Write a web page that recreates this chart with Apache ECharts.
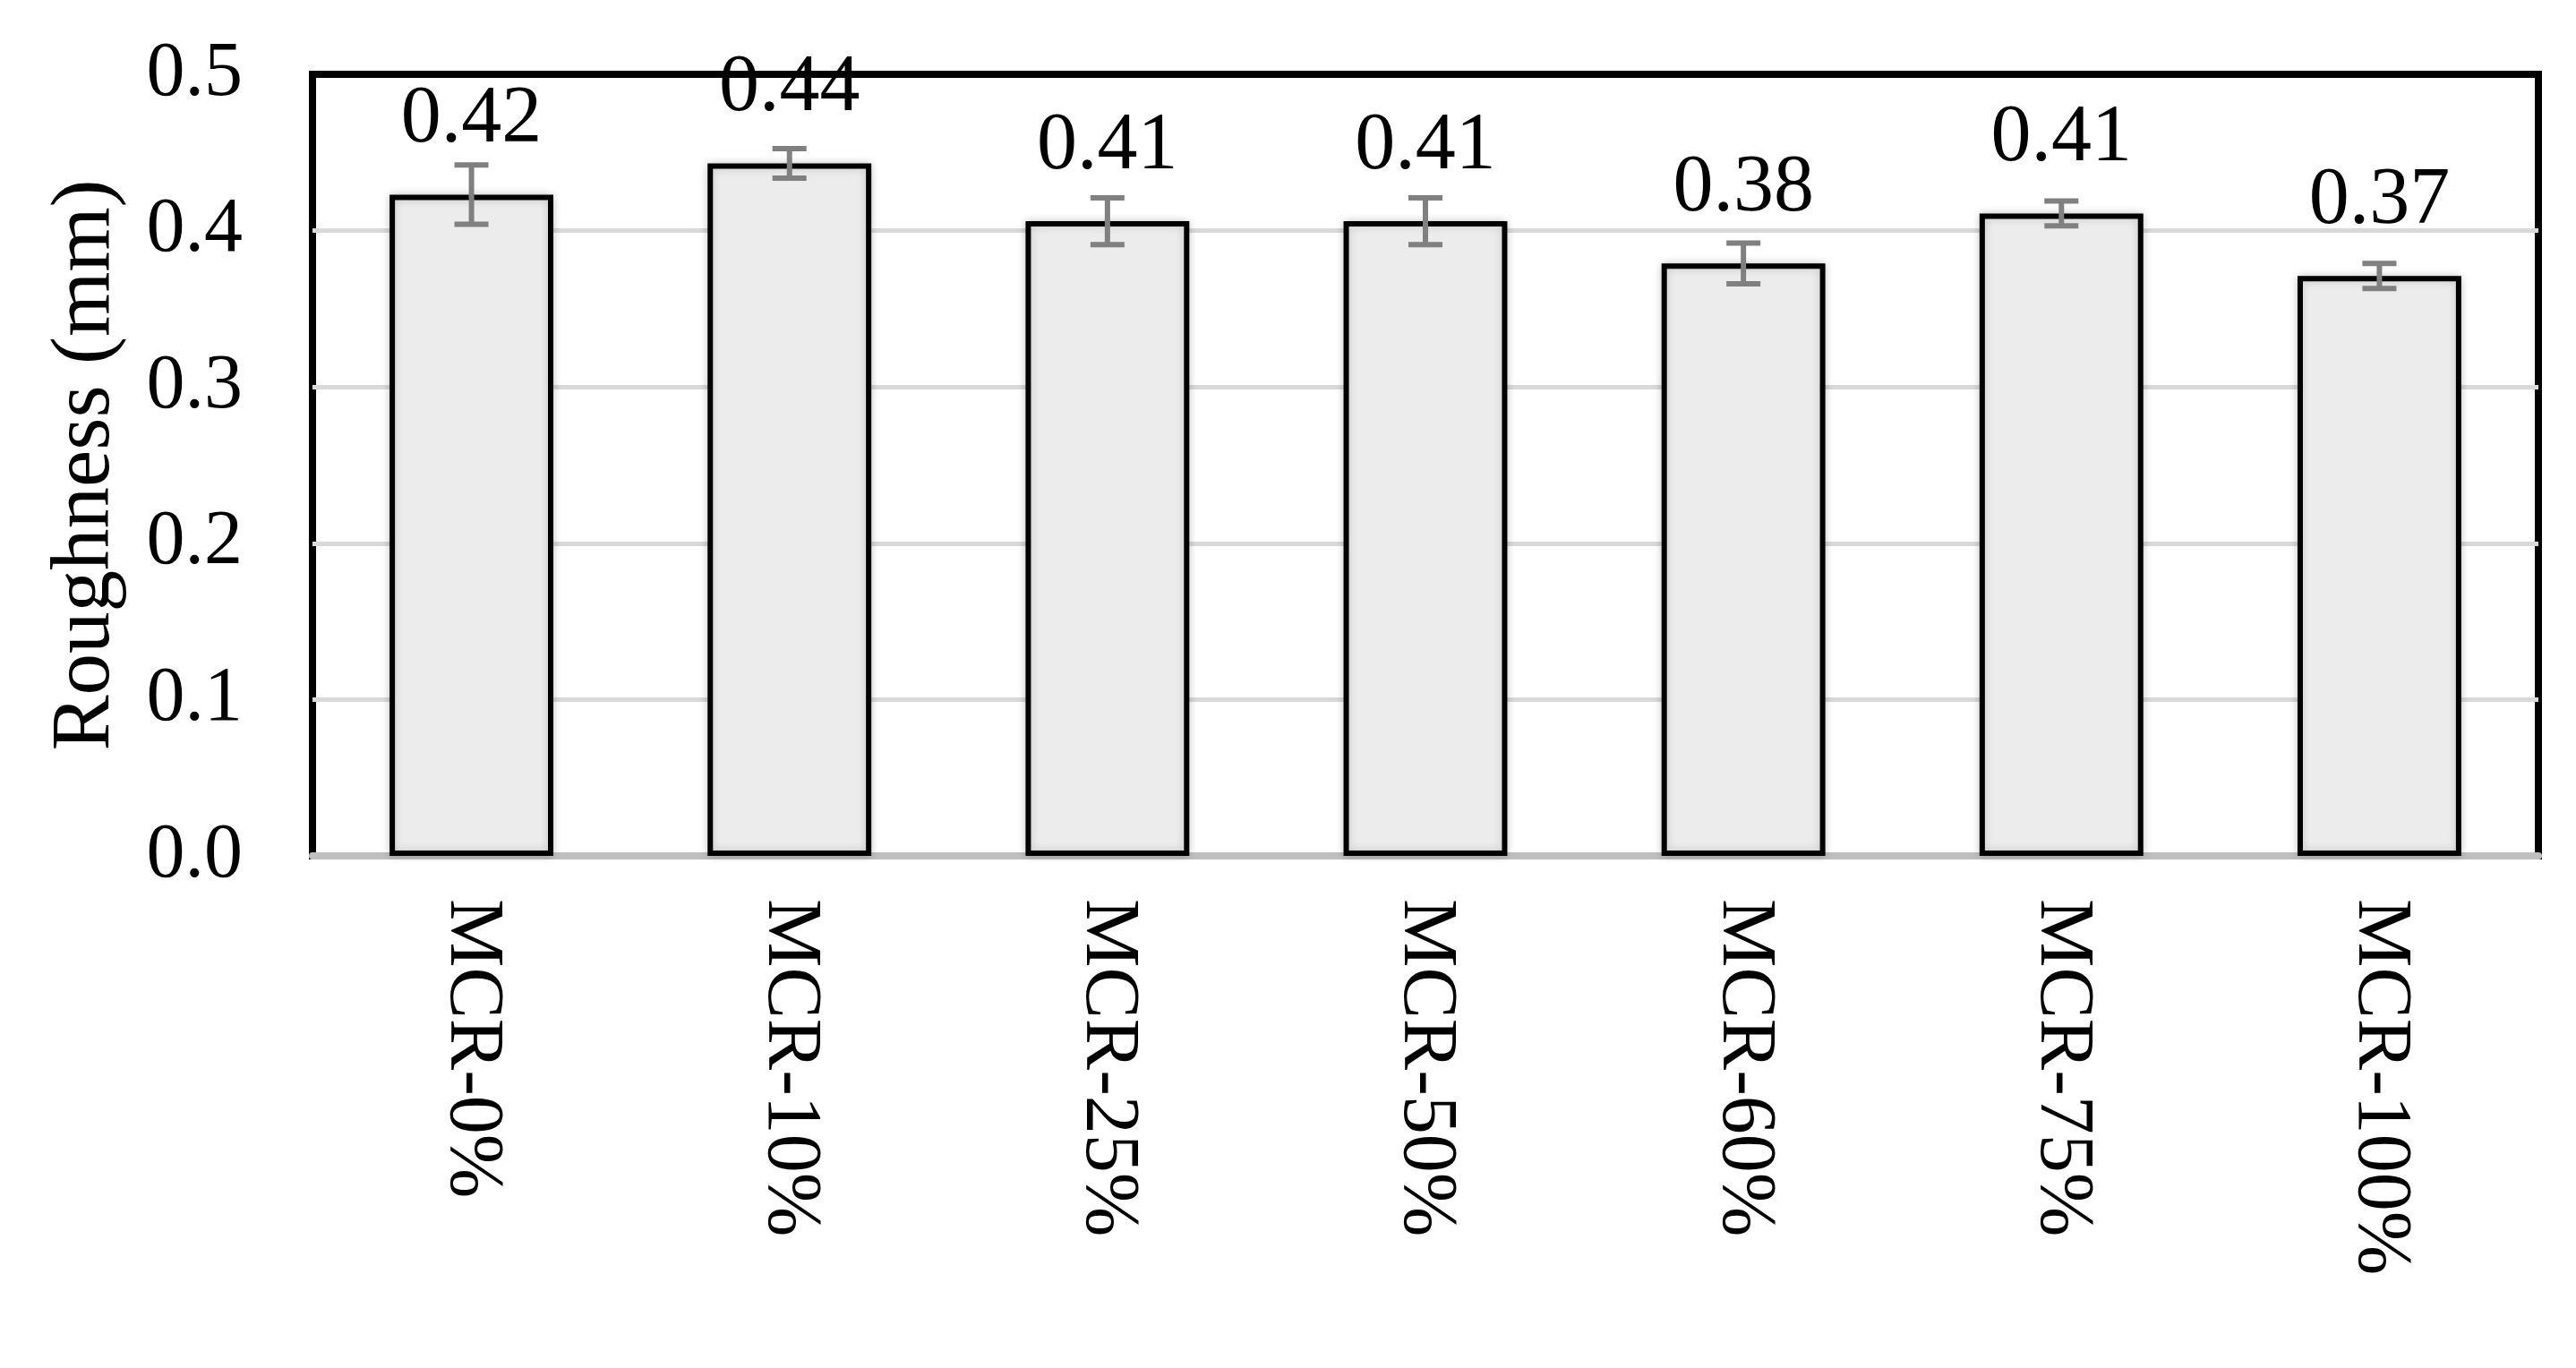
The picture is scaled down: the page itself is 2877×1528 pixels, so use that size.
<!DOCTYPE html>
<html>
<head>
<meta charset="utf-8">
<script src="https://cdn.jsdelivr.net/npm/echarts@6/dist/echarts.min.js"></script>
<style>
html,body{margin:0;padding:0;background:#fff;}
#chart{width:2877px;height:1528px;}
</style>
</head>
<body>
<div id="chart"></div>
<script>
const categories = ['MCR-0%','MCR-10%','MCR-25%','MCR-50%','MCR-60%','MCR-75%','MCR-100%'];
const roughness = [0.423, 0.443, 0.406, 0.406, 0.379, 0.411, 0.371];
const errors = [0.019, 0.0095, 0.015, 0.015, 0.013, 0.008, 0.008];
const yTicks = [0.0, 0.1, 0.2, 0.3, 0.4, 0.5];

const FONT = '"Liberation Serif", "Times New Roman", serif';
const errData = roughness.map((v, i) => [i, v - errors[i], v + errors[i]]);

const chart = echarts.init(document.getElementById('chart'));
chart.setOption({
  animation: false,
  backgroundColor: '#ffffff',
  grid: {
    left: 349, right: 42, top: 83, bottom: 572,
    show: true, borderColor: '#000', borderWidth: 8, backgroundColor: 'transparent'
  },
  xAxis: {
    type: 'category',
    data: categories,
    axisLine: { show: true, lineStyle: { color: '#bfbfbf', width: 8 } },
    axisTick: { show: false },
    axisLabel: {
      rotate: -90, margin: 48,
      fontFamily: FONT, fontSize: 86, color: '#000'
    }
  },
  yAxis: {
    type: 'value',
    min: yTicks[0], max: yTicks[yTicks.length - 1], interval: 0.1,
    name: 'Roughness (mm)',
    nameLocation: 'middle',
    nameGap: 206,
    nameTextStyle: { fontFamily: FONT, fontSize: 93, color: '#000' },
    axisLine: { show: false },
    axisTick: { show: false },
    splitLine: { show: true, showMaxLine: false, showMinLine: false, lineStyle: { color: '#d9d9d9', width: 5 } },
    axisLabel: {
      margin: 78,
      fontFamily: FONT, fontSize: 86, color: '#000',
      formatter: v => v.toFixed(1)
    }
  },
  series: [
    {
      type: 'bar',
      data: roughness,
      barWidth: '51.5%',
      itemStyle: {
        color: '#ececec',
        borderColor: '#000',
        borderWidth: 6,
        shadowBlur: 10,
        shadowColor: 'rgba(0,0,0,0.18)'
      },
      label: {
        show: true, position: 'top', distance: 38,
        fontFamily: FONT, fontSize: 90, color: '#000',
        formatter: p => p.value.toFixed(2)
      },
      z: 2
    },
    {
      type: 'custom',
      data: errData,
      z: 5,
      renderItem: function (params, api) {
        const x = api.value(0);
        const lo = api.coord([x, api.value(1)]);
        const hi = api.coord([x, api.value(2)]);
        const half = 19;
        const style = { stroke: '#808080', lineWidth: 6 };
        return {
          type: 'group',
          children: [
            { type: 'line', shape: { x1: lo[0], y1: lo[1], x2: hi[0], y2: hi[1] }, style: style },
            { type: 'line', shape: { x1: lo[0] - half, y1: lo[1], x2: lo[0] + half, y2: lo[1] }, style: style },
            { type: 'line', shape: { x1: hi[0] - half, y1: hi[1], x2: hi[0] + half, y2: hi[1] }, style: style }
          ]
        };
      }
    }
  ]
});
</script>
</body>
</html>
